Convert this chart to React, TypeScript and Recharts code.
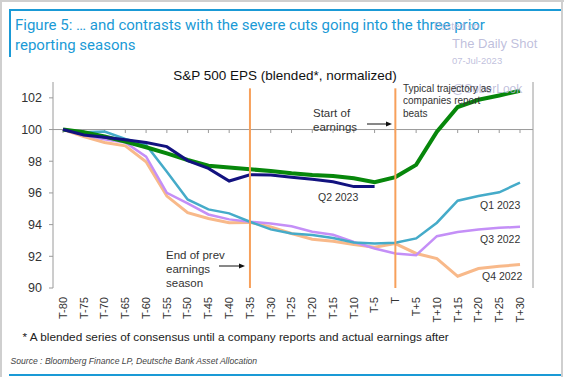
import { LineChart, Line, XAxis, YAxis, ReferenceLine } from 'recharts'

const categories = ['T-80', 'T-75', 'T-70', 'T-65', 'T-60', 'T-55', 'T-50', 'T-45', 'T-40', 'T-35', 'T-30', 'T-25', 'T-20', 'T-15', 'T-10', 'T-5', 'T', 'T+5', 'T+10', 'T+15', 'T+20', 'T+25', 'T+30']

const typical = [100, 99.83, 99.56, 99.24, 98.88, 98.5, 98.08, 97.72, 97.6, 97.49, 97.39, 97.24, 97.13, 97.07, 96.92, 96.67, 97.0, 97.77, 99.87, 101.42, 101.88, 102.15, 102.45]
const q2_2023 = [100, 99.66, 99.51, 99.35, 99.18, 98.92, 98.04, 97.55, 96.75, 97.15, 97.13, 96.99, 96.86, 96.71, 96.4, 96.4, null, null, null, null, null, null, null]
const q1_2023 = [100, 99.83, 99.87, 99.4, 99.03, 97.34, 95.59, 94.96, 94.71, 94.18, 93.7, 93.44, 93.34, 93.16, 92.87, 92.81, 92.85, 93.13, 94.12, 95.51, 95.8, 96.04, 96.65]
const q3_2022 = [100, 99.66, 99.39, 99.18, 98.29, 96.01, 95.34, 94.64, 94.33, 94.18, 94.07, 93.9, 93.55, 93.36, 92.9, 92.49, 92.18, 92.07, 93.27, 93.54, 93.69, 93.8, 93.86]
const q4_2022 = [100, 99.56, 99.18, 98.97, 97.97, 95.8, 94.75, 94.39, 94.12, 94.14, 93.86, 93.44, 93.08, 92.95, 92.75, 92.58, 92.8, 92.18, 91.86, 90.74, 91.23, 91.37, 91.48]

const yTicks = [90, 92, 94, 96, 98, 100, 102]
const seasonMarks = ['T-35', 'T']

const data = categories.map((c, i) => ({
  cat: c,
  typical: typical[i],
  q2_2023: q2_2023[i],
  q1_2023: q1_2023[i],
  q3_2022: q3_2022[i],
  q4_2022: q4_2022[i],
}))

const FONT = '"Liberation Sans", Arial, sans-serif'
const TEXT = '#333'
const AXIS = '#9a9a9a'

const XTick = ({ x, y, payload }: any) => (
  <text
    x={x}
    y={y + 1}
    transform={`rotate(-90, ${x}, ${y + 1})`}
    textAnchor="end"
    dy="0.35em"
    fontSize={11}
    fill={TEXT}
    fontFamily={FONT}
  >
    {payload.value}
  </text>
)

function Arrow({ x1, x2, y }: { x1: number; x2: number; y: number }) {
  return (
    <g>
      <line x1={x1} y1={y} x2={x2 - 5} y2={y} stroke="#111" strokeWidth={1} />
      <path d={`M${x2},${y} L${x2 - 6},${y - 2.5} L${x2 - 6},${y + 2.5} Z`} fill="#111" />
    </g>
  )
}

export default function App() {
  return (
    <div style={{ position: 'absolute', left: 0, top: 0, width: 564, height: 377, background: '#fff', fontFamily: FONT }}>
      {/* frame */}
      <div style={{ position: 'absolute', left: 0, top: 0, width: 564, height: 1.5, background: '#cfcfcf' }} />
      <div style={{ position: 'absolute', left: 0, top: 0, width: 1.5, height: 377, background: '#cfcfcf' }} />
      <div style={{ position: 'absolute', left: 561, top: 0, width: 1.5, height: 377, background: '#cfcfcf' }} />
      <div style={{ position: 'absolute', left: 9, top: 9, width: 552, height: 2, background: '#1a9ad6' }} />
      <div style={{ position: 'absolute', left: 9, top: 9, width: 2, height: 48, background: '#1a9ad6' }} />
      <div style={{ position: 'absolute', left: 9, top: 374, width: 552, height: 2, background: '#1a9ad6' }} />

      <div
        style={{
          position: 'absolute',
          left: 15,
          top: 15,
          color: '#1a9ad6',
          fontSize: 15,
          lineHeight: '20px',
          fontFamily: '"Liberation Sans Narrow", "Roboto", sans-serif',
        }}
      >
        Figure 5: … and contrasts with the severe cuts going into the three prior
        <br />
        reporting seasons
      </div>

      <div style={{ position: 'absolute', left: 0, top: 0 }}>
        <LineChart width={564} height={377} data={data} margin={{ top: 82, right: 1, bottom: 49, left: 13 }}>
          <XAxis
            dataKey="cat"
            interval={0}
            height={40}
            axisLine={false}
            tickLine={false}
            tick={<XTick />}
            padding={{ left: 10, right: 13 }}
          />
          <YAxis
            yAxisId="l"
            domain={[90, 103]}
            ticks={yTicks}
            width={40}
            tickSize={4}
            tickMargin={7}
            stroke={AXIS}
            tick={{ fill: TEXT, fontSize: 12.5, fontFamily: FONT }}
          />
          <YAxis
            yAxisId="r"
            orientation="right"
            domain={[90, 103]}
            ticks={yTicks}
            width={30}
            tickSize={4}
            tickMargin={4}
            stroke={AXIS}
            tick={{ fill: TEXT, fontSize: 12.5, fontFamily: FONT, textAnchor: 'start' }}
          />
          <ReferenceLine yAxisId="l" y={100} stroke={AXIS} strokeWidth={1} />
          {categories.map((c) => (
            <ReferenceLine
              key={c}
              yAxisId="l"
              segment={[
                { x: c, y: 100 },
                { x: c, y: 99.78 },
              ]}
              stroke={AXIS}
              strokeWidth={1}
            />
          ))}
          <Line yAxisId="l" dataKey="q4_2022" stroke="#f8b98a" strokeWidth={3} dot={false} isAnimationActive={false} />
          <Line yAxisId="l" dataKey="q3_2022" stroke="#c48ff7" strokeWidth={2.5} dot={false} isAnimationActive={false} />
          <Line yAxisId="l" dataKey="q1_2023" stroke="#45abc9" strokeWidth={2.5} dot={false} isAnimationActive={false} />
          <Line yAxisId="l" dataKey="typical" stroke="#07870b" strokeWidth={4} dot={false} isAnimationActive={false} />
          <Line yAxisId="l" dataKey="q2_2023" stroke="#12127f" strokeWidth={3} dot={false} isAnimationActive={false} />
          {seasonMarks.map((c) => (
            <ReferenceLine
              key={c}
              yAxisId="l"
              segment={[
                { x: c, y: 90 },
                { x: c, y: 102.6 },
              ]}
              stroke="#f7a05b"
              strokeWidth={2}
            />
          ))}
        </LineChart>
      </div>

      <svg width={564} height={377} style={{ position: 'absolute', left: 0, top: 0, pointerEvents: 'none' }} fontFamily={FONT}>
        <text x={285} y={80} textAnchor="middle" fontSize={13.5} fill="#111">
          S&amp;P 500 EPS (blended*, normalized)
        </text>

        <g fill="#b4b4d6" fillOpacity={0.85}>
          <text x={434} y={30} fontSize={10}>Posted on</text>
          <text x={452} y={48} fontSize={13}>The Daily Shot</text>
          <text x={452} y={63.5} fontSize={9.5}>07-Jul-2023</text>
          <text x={452} y={93} fontSize={12}>@SoberLook</text>
        </g>

        <g fill={TEXT} fontSize={11.5}>
          <text x={313} y={116.5}>Start of</text>
          <text x={313} y={130.5}>earnings</text>
          <text x={166} y={258.5}>End of prev</text>
          <text x={166} y={273}>earnings</text>
          <text x={166} y={287}>season</text>
        </g>
        <Arrow x1={367} x2={392} y={124} />
        <Arrow x1={219} x2={245} y={266} />

        <g fill={TEXT} fontSize={10}>
          <text x={403} y={91.5}>Typical trajectory as</text>
          <text x={403} y={104}>companies report</text>
          <text x={403} y={116.5}>beats</text>
        </g>

        <g fill={TEXT} fontSize={10.5}>
          <text x={318} y={200.7}>Q2 2023</text>
          <text x={480} y={208.7}>Q1 2023</text>
          <text x={480} y={243}>Q3 2022</text>
          <text x={482} y={279.7}>Q4 2022</text>
        </g>

        <text x={22.5} y={341} fontSize={11.8} fill="#222">
          * A blended series of consensus until a company reports and actual earnings after
        </text>
        <text x={10.5} y={364} fontSize={8.6} fontStyle="italic" fill="#444">
          Source : Bloomberg Finance LP, Deutsche Bank Asset Allocation
        </text>
      </svg>
    </div>
  )
}
